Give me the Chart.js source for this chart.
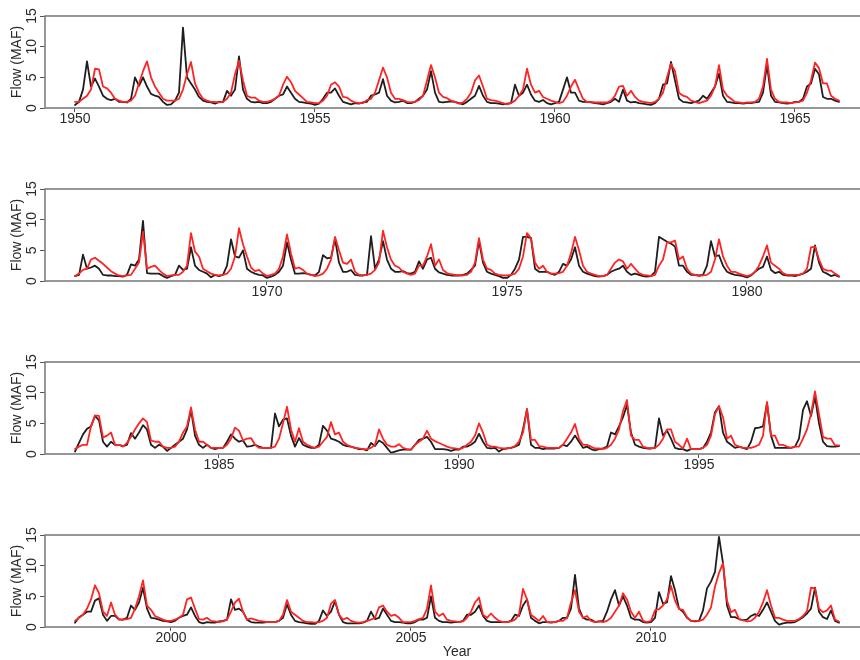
<!DOCTYPE html>
<html lang="en">
<head>
<meta charset="UTF-8">
<title>Flow (MAF)</title>
<script src="https://cdn.jsdelivr.net/npm/chart.js"></script>
<style>
  html, body { margin:0; padding:0; background:#fff; width:860px; height:660px; overflow:hidden; }
  canvas.panel { position:absolute; left:0; }
</style>
</head>
<body>
<canvas id="p0" class="panel" width="880" height="173" style="top:0px"></canvas>
<canvas id="p1" class="panel" width="880" height="173" style="top:173px"></canvas>
<canvas id="p2" class="panel" width="880" height="173" style="top:346px"></canvas>
<canvas id="p3" class="panel" width="880" height="142" style="top:519px"></canvas>
<script>
// first year of each panel, monthly values follow (16 years x 12 months)
const panelStarts = [1950, 1966, 1982, 1998];
const tickYears = [
  [1950, 1955, 1960, 1965],
  [1970, 1975, 1980],
  [1985, 1990, 1995],
  [2000, 2005, 2010]
];
const yTicks = [0, 5, 10, 15];

// black series
const observed1 = [
  0.5,1.0,3.0,7.6,3.5,4.8,3.5,2.0,1.5,1.3,1.5,1.0,
  1.0,0.9,1.5,5.0,3.6,5.0,3.5,2.3,2.0,1.8,1.0,0.5,
  0.6,1.2,2.5,13.1,5.0,4.0,3.0,1.8,1.2,1.0,0.9,0.7,
  1.0,1.0,2.8,2.0,3.0,8.4,3.0,1.5,1.0,0.9,1.0,0.8,
  0.8,1.0,1.5,2.0,2.2,3.5,2.5,1.5,1.0,0.9,0.8,0.7,
  0.5,0.7,1.5,2.5,2.5,3.2,2.0,1.0,0.8,0.6,0.8,0.7,
  0.9,1.0,2.0,2.2,2.5,4.7,2.0,1.2,0.9,1.0,1.2,0.8,
  0.8,1.0,1.5,2.0,3.0,6.0,2.5,1.0,0.9,1.0,1.1,1.0,
  0.8,0.6,1.0,1.5,2.0,3.6,2.0,1.0,0.8,0.8,0.7,0.6,
  0.7,0.8,3.8,2.0,2.5,3.8,2.2,1.2,1.0,1.3,0.8,0.6,
  0.8,1.0,3.0,5.0,2.5,2.5,1.2,1.0,1.0,0.9,0.8,0.7,
  0.6,0.8,1.0,1.5,1.0,3.0,1.2,0.9,1.0,0.8,0.7,0.6,
  0.5,0.8,1.5,3.8,4.0,7.5,4.5,1.5,1.0,0.9,0.8,1.0,
  1.2,2.0,1.5,2.5,3.5,5.6,2.0,1.0,0.9,0.8,0.8,0.7,
  0.8,0.8,0.9,1.0,2.5,7.0,2.0,1.0,0.9,0.8,0.7,0.8,
  1.0,1.0,1.5,3.5,4.0,6.4,5.5,1.8,1.5,1.5,1.2,1.0
];
const observed2 = [
  0.8,1.0,4.3,2.0,2.2,2.5,2.0,1.0,0.9,0.9,0.8,0.8,
  0.7,1.0,2.7,2.5,3.5,9.8,1.3,1.2,1.2,1.2,0.8,0.5,
  0.8,1.0,2.5,1.8,2.0,5.5,2.5,1.8,1.5,1.2,0.6,1.0,
  0.8,1.0,2.5,6.8,4.0,3.8,5.0,2.0,1.5,1.2,1.0,0.9,
  0.5,0.7,1.0,1.5,2.5,6.3,3.5,1.2,1.2,1.3,1.2,1.0,
  0.9,1.5,4.2,3.7,3.8,6.9,3.0,1.5,1.5,1.8,1.0,0.9,
  0.9,1.0,7.3,2.0,3.5,6.5,3.5,2.0,1.5,1.5,1.6,1.3,
  1.2,1.5,3.2,2.0,3.5,3.8,2.0,1.4,1.2,1.0,0.9,0.9,
  0.9,1.0,1.2,1.8,2.5,6.5,3.0,1.5,1.2,1.0,0.8,0.5,
  0.5,1.0,2.0,3.5,7.2,7.2,7.0,2.0,1.5,1.5,1.5,1.2,
  1.0,1.5,2.8,2.5,3.5,5.5,2.5,1.5,1.2,1.0,0.8,0.7,
  0.8,1.0,1.5,1.8,2.0,2.5,1.5,1.0,1.2,1.0,0.8,0.7,
  0.8,1.5,7.2,6.8,6.4,6.1,5.6,2.5,2.5,1.5,1.0,1.0,
  0.9,1.0,2.5,6.5,4.0,4.2,2.5,1.5,1.2,1.0,0.9,0.8,
  0.6,0.9,1.5,2.0,2.3,4.0,1.8,1.3,1.5,1.0,0.9,0.9,
  0.8,1.0,1.2,1.5,2.0,5.8,3.0,1.5,1.2,0.8,1.0,0.7
];
const observed3 = [
  0.4,1.8,3.2,4.1,4.5,6.2,5.5,2.0,1.2,2.0,1.5,1.5,
  1.3,1.5,3.4,2.5,3.5,4.7,4.0,1.5,1.0,1.5,1.2,0.5,
  1.0,1.5,2.0,2.5,4.0,7.2,3.0,1.5,1.0,1.5,1.0,0.8,
  1.0,1.0,2.0,3.2,2.5,2.0,2.2,1.2,1.3,1.5,1.2,1.0,
  1.0,1.0,6.6,4.5,5.6,5.8,3.0,1.2,2.6,1.5,1.2,1.0,
  1.0,1.5,4.6,3.8,2.5,2.3,2.0,1.5,1.3,1.2,1.0,0.8,
  0.8,0.6,1.8,1.3,2.2,1.8,1.0,0.2,0.4,0.6,0.7,0.7,
  0.7,1.5,2.3,2.5,2.8,2.0,0.8,0.8,0.8,0.7,0.5,0.7,
  0.7,1.2,1.2,1.5,2.0,3.3,2.0,1.0,0.9,1.0,0.4,0.8,
  0.9,1.0,1.2,1.5,4.0,7.3,1.5,1.0,1.0,0.8,0.9,0.9,
  0.9,1.0,1.5,1.3,2.0,3.0,2.0,1.0,1.2,0.8,0.6,0.8,
  0.9,1.2,3.5,3.2,4.5,6.0,8.0,3.5,1.5,1.2,1.0,0.9,
  0.9,1.0,5.8,3.0,3.8,2.5,1.0,0.8,0.8,0.5,0.8,0.8,
  0.8,1.0,2.0,3.5,6.8,7.8,3.5,2.0,1.5,1.0,1.2,1.0,
  0.8,2.0,4.2,4.3,4.5,8.3,3.0,1.0,1.0,1.0,1.0,1.0,
  1.2,2.5,7.2,8.6,6.2,9.3,5.0,2.0,1.3,1.2,1.2,1.3
];
const observed4 = [
  0.7,1.6,2.0,2.5,2.5,4.3,4.7,2.0,1.0,1.8,1.8,1.2,
  1.2,1.5,3.5,2.8,4.0,6.4,3.0,1.5,1.4,1.2,1.0,0.9,
  0.8,1.0,1.5,1.8,2.0,3.2,1.8,0.8,0.6,0.8,0.7,0.7,
  0.9,1.0,1.2,4.5,2.8,3.0,2.5,1.2,0.8,0.7,0.7,0.7,
  0.8,0.8,0.8,1.0,1.5,3.7,2.0,1.0,0.8,0.7,0.6,0.5,
  0.5,1.0,2.7,1.8,2.5,4.2,2.0,0.8,0.6,0.6,0.6,0.6,
  0.7,1.0,2.5,1.3,1.5,3.0,2.0,1.0,0.8,0.8,0.7,0.6,
  0.6,0.8,1.2,1.2,1.5,5.0,1.5,1.0,0.8,0.8,0.7,0.8,
  0.8,1.0,2.0,2.0,2.5,3.5,1.8,1.0,0.8,0.8,0.8,0.8,
  0.8,1.0,2.0,1.8,3.5,4.5,1.5,1.0,0.6,0.8,0.8,0.7,
  0.8,1.0,1.5,1.5,3.0,8.5,3.0,1.5,1.2,1.2,0.8,0.9,
  1.0,2.5,4.5,6.0,3.5,5.0,3.5,1.5,1.2,1.2,0.8,0.7,
  0.8,1.5,5.7,3.8,4.0,8.3,6.0,3.0,2.5,1.5,1.0,0.9,
  1.0,2.7,6.3,7.4,9.0,14.7,10.4,3.5,1.6,1.6,1.3,1.1,
  1.2,1.8,2.1,1.8,2.8,4.0,2.5,1.0,0.4,0.6,0.7,0.7,
  0.8,1.2,1.6,2.2,3.0,6.4,2.5,1.6,1.3,2.7,1.0,0.7
];

// red series
const simulated1 = [
  1.0,1.0,1.5,2.0,3.0,6.4,6.3,3.5,3.2,2.5,1.5,1.2,
  1.0,1.0,1.2,2.0,4.0,6.0,7.6,5.0,3.5,2.5,1.5,1.2,
  1.2,1.2,1.5,3.0,5.5,7.5,4.0,2.5,1.5,1.2,1.0,1.0,
  0.9,1.0,1.5,2.5,5.5,7.7,4.5,2.0,1.7,1.7,1.2,1.0,
  1.0,1.2,1.5,2.0,3.8,5.1,4.2,2.8,2.2,1.6,1.0,0.9,
  0.8,0.8,1.2,2.0,3.8,4.2,3.5,1.8,1.7,1.2,0.9,0.8,
  0.8,1.3,1.5,2.5,4.5,6.6,5.0,2.5,1.5,1.5,1.3,1.0,
  0.9,1.0,1.3,2.0,4.5,7.0,5.0,2.5,1.8,1.6,1.2,1.0,
  0.7,0.9,1.5,2.5,4.5,5.3,3.5,1.5,1.3,1.2,1.0,0.8,
  0.6,0.8,1.2,2.0,3.0,6.4,3.8,2.5,2.8,1.8,1.5,1.2,
  1.0,0.8,1.0,2.0,3.5,4.6,3.0,1.5,1.0,1.0,0.9,0.9,
  0.9,0.9,1.2,2.0,3.5,3.6,2.0,2.8,1.8,1.2,1.0,0.9,
  0.8,1.0,1.5,2.5,5.0,7.2,6.0,2.5,2.0,1.8,1.2,1.0,
  0.8,1.0,1.2,2.0,3.5,7.0,3.0,2.0,1.5,1.0,0.9,0.8,
  0.9,0.9,1.0,1.5,3.5,8.0,3.0,1.5,1.0,0.9,0.9,0.8,
  0.9,1.0,1.2,2.5,4.5,7.4,6.5,4.0,4.0,2.0,1.5,1.2
];
const simulated2 = [
  0.8,1.2,1.8,2.0,3.5,3.8,3.3,2.8,2.2,1.6,1.2,0.9,
  0.8,0.9,1.0,2.0,3.0,8.0,2.0,2.3,2.5,1.8,1.2,0.8,
  0.9,1.0,1.0,1.5,2.5,7.8,4.8,4.0,2.0,1.6,1.2,1.0,
  0.9,1.0,1.2,2.0,4.0,8.6,6.0,4.0,2.2,1.6,1.8,1.2,
  0.8,1.0,1.2,2.0,4.0,7.6,4.5,2.0,2.2,1.8,1.2,1.0,
  0.8,0.9,1.2,2.0,3.5,7.2,5.0,3.0,2.8,3.5,1.5,1.0,
  0.9,1.0,1.2,1.8,3.0,8.2,5.5,3.5,2.5,2.2,1.5,1.2,
  1.0,1.2,2.5,2.5,4.0,6.0,2.5,3.5,1.8,1.3,1.1,1.0,
  0.9,0.9,1.0,1.5,3.0,7.0,3.5,2.0,1.8,1.2,1.0,0.9,
  0.9,1.0,1.2,2.0,4.0,7.8,7.0,3.0,2.0,2.5,1.5,1.2,
  1.2,1.3,1.5,2.5,4.5,7.2,5.0,2.5,1.5,1.2,1.0,0.8,
  0.8,1.0,2.0,3.0,3.5,3.2,2.0,2.8,2.0,1.3,1.0,0.9,
  0.8,1.0,2.5,3.5,6.3,6.3,6.6,3.5,4.0,2.0,1.2,1.0,
  0.8,0.9,1.0,1.5,3.5,6.8,4.0,2.5,1.5,1.5,1.2,1.0,
  0.8,1.0,1.5,2.5,4.0,5.8,3.0,2.5,2.0,1.3,1.0,1.0,
  1.0,1.0,1.2,2.0,5.5,5.6,3.5,2.0,1.7,1.7,1.2,0.8
];
const simulated3 = [
  0.8,1.2,1.5,1.5,4.5,6.3,6.2,2.7,3.0,3.5,1.5,1.5,
  1.2,1.8,2.8,4.0,5.0,5.8,5.2,2.2,2.0,2.0,1.2,1.0,
  1.0,1.2,2.0,3.5,4.5,7.6,4.0,2.0,2.0,1.5,1.0,1.0,
  1.0,1.0,1.5,2.5,4.3,3.8,2.2,2.5,2.6,1.5,1.0,1.0,
  1.0,1.0,1.2,2.5,5.0,7.7,4.0,2.0,4.2,2.0,1.5,1.2,
  1.0,1.2,2.0,2.8,5.2,3.2,3.5,2.0,1.5,1.2,1.0,0.9,
  0.8,0.8,1.0,1.5,4.0,2.5,1.5,1.2,1.2,1.6,1.0,0.8,
  0.7,1.5,2.0,2.5,3.8,2.5,2.1,1.8,1.5,1.2,1.0,0.9,
  0.8,1.0,1.5,2.0,3.0,5.0,3.5,1.5,1.2,1.2,1.0,0.9,
  0.9,1.0,1.3,2.0,3.5,7.3,2.3,2.3,1.3,1.2,1.0,1.0,
  1.0,1.0,1.5,2.5,3.5,4.9,2.5,1.5,1.5,1.2,0.9,0.9,
  0.8,1.0,1.5,2.5,4.0,7.0,8.8,3.0,2.3,2.3,1.2,1.0,
  0.9,1.0,1.5,2.5,4.0,4.0,2.0,1.5,0.9,2.5,0.8,0.8,
  0.8,1.0,1.5,3.0,6.5,7.8,6.0,2.5,3.0,1.5,1.2,1.0,
  1.0,1.0,1.2,1.5,3.0,8.5,3.0,3.0,1.5,1.5,1.2,1.0,
  1.2,1.2,2.5,4.0,6.5,10.2,6.5,2.8,2.5,2.5,1.4,1.4
];
const simulated4 = [
  1.0,1.5,2.0,3.0,4.5,6.8,5.5,2.5,1.8,4.0,2.0,1.3,
  1.2,1.3,1.5,3.0,5.0,7.6,3.5,2.8,1.8,1.5,1.2,1.0,
  1.0,1.2,1.5,2.0,4.5,4.8,3.0,1.3,1.2,1.5,1.0,0.9,
  0.8,0.9,1.2,2.5,4.0,4.6,2.5,1.2,1.4,1.2,1.0,0.9,
  0.8,0.8,0.8,1.0,2.0,4.4,2.5,2.0,1.5,1.0,0.8,0.8,
  0.7,0.8,1.0,1.5,3.8,4.4,2.0,1.2,1.5,1.0,0.8,0.7,
  0.8,1.0,1.2,1.5,3.2,3.5,2.5,1.8,2.0,1.5,0.8,0.8,
  0.8,1.0,1.3,1.5,3.0,6.8,2.5,1.8,2.2,1.2,1.0,0.9,
  0.8,0.9,1.5,2.5,4.0,4.8,2.0,1.5,2.2,1.5,1.0,0.8,
  0.8,0.9,1.2,2.0,6.2,4.5,2.0,1.5,1.0,1.8,0.8,0.8,
  0.8,1.0,1.0,1.5,4.0,6.0,2.5,1.5,1.8,1.0,0.8,0.9,
  0.8,1.0,1.5,2.5,3.5,5.5,4.5,2.5,1.5,2.5,1.0,0.8,
  1.0,2.7,2.9,3.5,4.5,6.7,4.3,2.9,2.8,1.6,1.0,1.0,
  1.0,1.2,2.0,3.2,6.6,8.8,10.4,4.3,2.4,2.8,1.3,1.1,
  0.9,1.0,1.5,2.5,4.0,6.0,3.5,1.5,1.5,1.2,1.0,1.0,
  1.0,1.3,1.8,2.6,6.4,6.3,3.0,2.4,2.7,3.5,1.2,0.9
];

const observedAll = [observed1, observed2, observed3, observed4];
const simulatedAll = [simulated1, simulated2, simulated3, simulated4];

Chart.defaults.font.family = "'Liberation Sans', Arial, sans-serif";
Chart.defaults.font.size = 14;
Chart.defaults.color = '#2a2a2a';

// grey box round the plot region
const frame = {
  id: 'frame',
  afterDraw(chart) {
    const { ctx, chartArea: { left, top, right, bottom } } = chart;
    ctx.save();
    ctx.strokeStyle = '#7d7d7d';
    ctx.lineWidth = 1.6;
    ctx.strokeRect(left, top, right - left, bottom - top);
    ctx.restore();
  }
};

function toPoints(values, start) {
  return values.map((v, i) => ({ x: start + i / 12, y: v }));
}

function makePanel(idx) {
  const canvas = document.getElementById('p' + idx);
  const start = panelStarts[idx];
  const isLast = idx === panelStarts.length - 1;
  const plotBottom = 108;

  new Chart(canvas, {
    type: 'line',
    data: {
      datasets: [
        { data: toPoints(simulatedAll[idx], start), borderColor: '#ff2424' },
        { data: toPoints(observedAll[idx], start), borderColor: '#1e1e1e' }
      ]
    },
    options: {
      responsive: false,
      animation: false,
      events: [],
      layout: { padding: { top: 16, right: 11, bottom: 0, left: 0 } },
      elements: {
        point: { radius: 0 },
        line: { borderWidth: 1.8, tension: 0, borderJoinStyle: 'round', borderCapStyle: 'round', fill: false }
      },
      plugins: { legend: { display: false }, tooltip: { enabled: false } },
      scales: {
        x: {
          type: 'linear',
          min: start - 0.625,
          max: start + 16.5417,
          afterBuildTicks: s => { s.ticks = tickYears[idx].map(v => ({ value: v })); },
          afterFit: s => { s.height = canvas.height - plotBottom; },
          grid: { drawOnChartArea: false, drawTicks: true, tickLength: 4, color: '#555' },
          border: { display: false },
          ticks: { padding: 0, maxRotation: 0, autoSkip: false, font: { lineHeight: 1 }, callback: v => String(v) },
          title: { display: isLast, text: 'Year', padding: 0 }
        },
        y: {
          min: 0,
          max: 15,
          afterBuildTicks: s => { s.ticks = yTicks.map(v => ({ value: v })); },
          afterFit: s => { s.width = 45; },
          grid: { drawOnChartArea: false, drawTicks: true, tickLength: 5, color: '#555' },
          border: { display: false },
          ticks: { padding: 0, minRotation: 90, maxRotation: 90, crossAlign: 'center', callback: v => String(v) },
          title: { display: true, text: 'Flow (MAF)', padding: { top: 9, bottom: 0 } }
        }
      }
    },
    plugins: [frame]
  });
}

panelStarts.forEach((_, i) => makePanel(i));
</script>
</body>
</html>
